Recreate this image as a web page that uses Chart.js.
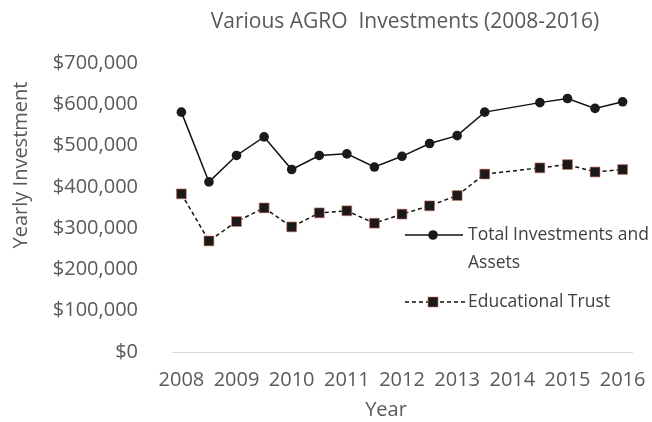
<!DOCTYPE html>
<html><head><meta charset="utf-8">
<script src="https://cdn.jsdelivr.net/npm/chart.js@4.4.1/dist/chart.umd.min.js"></script>
<style>html,body{margin:0;padding:0;background:#fff;} #wrap{width:652px;height:422px;position:relative;}</style>
</head><body><div id="wrap"><canvas id="c" width="652" height="422"></canvas></div>
<script>
const periods = [2008, 2008.5, 2009, 2009.5, 2010, 2010.5, 2011, 2011.5, 2012, 2012.5, 2013, 2013.5, 2014.5, 2015, 2015.5, 2016];
const totalInvestments = [581000, 412000, 476000, 521000, 442000, 476000, 480000, 448000, 474000, 505000, 524000, 581000, 604000, 614000, 590000, 606000];
const educationalTrust = [383000, 269000, 316000, 349000, 303000, 337000, 342000, 312000, 334000, 354000, 379000, 431000, 446000, 454000, 436000, 442000];
const yearTicks = [2008, 2009, 2010, 2011, 2012, 2013, 2014, 2015, 2016];
const valueTicks = [0, 100000, 200000, 300000, 400000, 500000, 600000, 700000];
const seriesNames = ['Total Investments and Assets', 'Educational Trust'];
const chartTitle = 'Various AGRO  Investments (2008-2016)';
const xTitle = 'Year';
const yTitle = 'Yearly Investment';

const TXT = '#595959';
const FONT = '"Open Sans", sans-serif';

const toPoints = (vals) => vals.map((v, i) => ({x: periods[i], y: v}));

const overlay = {
  id: 'overlay',
  afterDraw(chart) {
    const ctx = chart.ctx;
    ctx.save();
    ctx.fillStyle = TXT;
    ctx.textAlign = 'center';
    ctx.textBaseline = 'middle';
    ctx.font = '21px ' + FONT;
    ctx.fillText(chartTitle, 405, 22);
    ctx.font = '20px ' + FONT;
    ctx.fillText(xTitle, 386, 410);
    ctx.save();
    ctx.translate(21, 165);
    ctx.rotate(-Math.PI / 2);
    ctx.fillText(yTitle, 0, 0);
    ctx.restore();
    // legend
    ctx.textAlign = 'left';
    ctx.font = '17.5px ' + FONT;
    const ly1 = 235, ly2 = 302;
    ctx.strokeStyle = '#111';
    ctx.lineWidth = 1.5;
    ctx.beginPath(); ctx.moveTo(405, ly1); ctx.lineTo(463, ly1); ctx.stroke();
    ctx.fillStyle = '#1a1a1a';
    ctx.beginPath(); ctx.arc(433, ly1, 4.8, 0, Math.PI * 2); ctx.fill();
    ctx.setLineDash([4, 3]);
    ctx.beginPath(); ctx.moveTo(405, ly2); ctx.lineTo(465, ly2); ctx.stroke();
    ctx.setLineDash([]);
    ctx.fillStyle = '#1a1a1a';
    ctx.fillRect(428, ly2 - 5, 10, 10);
    ctx.strokeStyle = 'rgba(220,120,100,0.6)';
    ctx.lineWidth = 1;
    ctx.strokeRect(428, ly2 - 5, 10, 10);
    ctx.fillStyle = '#404040';
    ctx.fillText('Total Investments and', 468, ly1);
    ctx.fillText('Assets', 468, ly1 + 28);
    ctx.fillText(seriesNames[1], 468, ly2);
    ctx.restore();
  }
};

new Chart(document.getElementById('c'), {
  type: 'line',
  data: {
    datasets: [
      {
        label: seriesNames[0],
        data: toPoints(totalInvestments),
        borderColor: '#111',
        borderWidth: 1.5,
        pointStyle: 'circle',
        pointRadius: 4.8,
        pointBackgroundColor: '#1a1a1a',
        pointBorderColor: '#1a1a1a',
        pointBorderWidth: 0,
        tension: 0
      },
      {
        label: seriesNames[1],
        data: toPoints(educationalTrust),
        borderColor: '#111',
        borderWidth: 1.5,
        borderDash: [4, 3],
        pointStyle: 'rect',
        pointRadius: 7,
        pointBackgroundColor: '#1a1a1a',
        pointBorderColor: 'rgba(220,120,100,0.6)',
        pointBorderWidth: 1,
        tension: 0
      }
    ]
  },
  options: {
    responsive: false,
    animation: false,
    devicePixelRatio: 1,
    layout: {padding: {top: 63, right: 20, left: 0, bottom: 0}},
    plugins: {legend: {display: false}, title: {display: false}, tooltip: {enabled: false}},
    scales: {
      x: {
        type: 'linear',
        min: 2007.83,
        max: 2016.17,
        afterBuildTicks: (s) => { s.ticks = yearTicks.map(v => ({value: v})); },
        afterFit: (s) => { s.height = 70; s.paddingLeft = 0; s.paddingRight = 0; },
        grid: {display: false, drawTicks: false},
        border: {display: true, color: '#d9d9d9', width: 1},
        ticks: {autoSkip: false, maxRotation: 0, padding: 16, color: TXT, font: {family: FONT, size: 20}, callback: (v) => String(v)}
      },
      y: {
        min: 0,
        max: 700000,
        afterBuildTicks: (s) => { s.ticks = valueTicks.map(v => ({value: v})); },
        afterFit: (s) => { s.width = 172; s.paddingTop = 0; s.paddingBottom = 0; },
        grid: {display: false, drawTicks: false},
        border: {display: false},
        ticks: {padding: 34, color: TXT, font: {family: FONT, size: 20},
          callback: (v) => '$' + Number(v).toLocaleString('en-US')}
      }
    }
  },
  plugins: [overlay]
});
</script></body></html>
